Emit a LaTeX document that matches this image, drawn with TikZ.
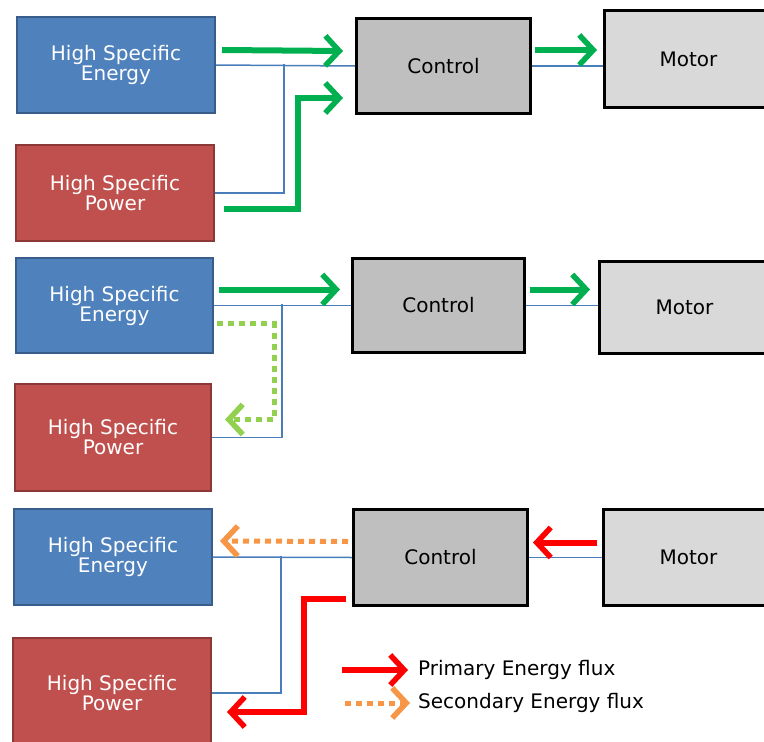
\documentclass[tikz,border=0pt]{standalone}
\usepackage{fontspec}
\setmainfont{DejaVu Sans}
\usetikzlibrary{arrows.meta}

\definecolor{seblue}{HTML}{4F81BD}
\definecolor{seblueline}{HTML}{385D8A}
\definecolor{spred}{HTML}{C0504D}
\definecolor{spredline}{HTML}{8C3836}
\definecolor{ctrlgray}{HTML}{BFBFBF}
\definecolor{motorgray}{HTML}{D9D9D9}
\definecolor{fluxgreen}{HTML}{00B050}
\definecolor{fluxlight}{HTML}{92D050}
\definecolor{fluxorange}{HTML}{F79646}
\definecolor{fluxred}{HTML}{FF0000}
\definecolor{busblue}{HTML}{4A7EBB}

\tikzset{
  box/.style={anchor=north west, align=center, inner sep=0pt,
    font=\fontsize{20}{20}\selectfont},
  energy/.style={box, fill=seblue, draw=seblueline, line width=2pt, text=white},
  power/.style={box, fill=spred, draw=spredline, line width=2pt, text=white},
  ctrl/.style={box, fill=ctrlgray, draw=black, line width=3pt},
  motor/.style={box, fill=motorgray, draw=black, line width=3pt},
  bus/.style={draw=busblue, line width=1.5pt},
  tip/.style={-{Straight Barb[length=14pt,width=30pt,line width=5.5pt]}},
  greenflux/.style={tip, draw=fluxgreen, line width=6pt},
  lightflux/.style={tip, draw=fluxlight, line width=5pt, dash pattern=on 6pt off 5pt},
  redflux/.style={tip, draw=fluxred, line width=6pt},
  orangeflux/.style={tip, draw=fluxorange, line width=5pt, dash pattern=on 6pt off 5pt}
}

\begin{document}
\begin{tikzpicture}[x=1pt, y=-1pt]
    \useasboundingbox (0,0) rectangle (764,742);

    % charge from both sources
    \node[energy, minimum width=198pt, minimum height=96pt] (e1) at (16,16) {High Specific\\Energy};
    \node[power, minimum width=198pt, minimum height=96pt] (p1) at (15,144) {High Specific\\Power};
    \node[ctrl, minimum width=174pt, minimum height=95pt] (c1) at (355,17) {Control};
    \node[motor, minimum width=168pt, minimum height=97pt] (m1) at (603,9) {Motor};
    \coordinate (j1) at (284,64);

    \draw[bus] (e1.east) -- (c1.west);
    \draw[bus] (p1.east) -| (j1);
    \draw[bus] (c1.east) -- (c1.east -| m1.west);
    \draw[greenflux] ([xshift=6pt,yshift=15pt]e1.east) -- ([xshift=-12pt,yshift=15pt]c1.west);
    \draw[greenflux] ([xshift=9pt,yshift=-16pt]p1.east) -| ([xshift=-57pt,yshift=-32pt]c1.west)
        -- ([xshift=-12pt,yshift=-32pt]c1.west);
    \draw[greenflux] ([xshift=3pt,yshift=16pt]c1.east) -- ([xshift=-6pt,yshift=9pt]m1.west);

    % energy source recharges power source
    \node[energy, minimum width=197pt, minimum height=95pt] (e2) at (15,257) {High Specific\\Energy};
    \node[power, minimum width=196pt, minimum height=107pt] (p2) at (14,383) {High Specific\\Power};
    \node[ctrl, minimum width=172pt, minimum height=94pt] (c2) at (351,257) {Control};
    \node[motor, minimum width=170pt, minimum height=92pt] (m2) at (598,260) {Motor};
    \coordinate (j2) at (282,304);

    \draw[bus] (e2.east) -- (c2.west);
    \draw[bus] (p2.east) -| (j2);
    \draw[bus] (c2.east) -- (c2.east -| m2.west);
    \draw[greenflux] ([xshift=5pt,yshift=16pt]e2.east) -- ([xshift=-11pt,yshift=16pt]c2.west);
    \draw[lightflux] ([xshift=3pt,yshift=-18pt]e2.east) -| ([xshift=62pt,yshift=18pt]p2.east)
        -- ([xshift=13pt,yshift=18pt]p2.east);
    \draw[greenflux] ([xshift=4pt,yshift=16pt]c2.east) -- ([xshift=-8pt,yshift=18pt]m2.west);

    % regenerative braking
    \node[energy, minimum width=198pt, minimum height=96pt] (e3) at (13,508) {High Specific\\Energy};
    \node[power, minimum width=198pt, minimum height=110pt] (p3) at (12,637) {High Specific\\Power};
    \node[ctrl, minimum width=174pt, minimum height=96pt] (c3) at (352,508) {Control};
    \node[motor, minimum width=170pt, minimum height=96pt] (m3) at (602,508) {Motor};
    \coordinate (j3) at (281,556);

    \draw[bus] (e3.east) -- (c3.west);
    \draw[bus] (p3.east) -| (j3);
    \draw[bus] (c3.east) -- (m3.west);
    \draw[orangeflux] ([xshift=-4pt,yshift=16pt]c3.west) -- ([xshift=7pt,yshift=16pt]e3.east);
    \draw[redflux] ([xshift=-6pt,yshift=-41pt]c3.west) -| ([xshift=92pt,yshift=-19pt]p3.east)
        -- ([xshift=15pt,yshift=-19pt]p3.east);
    \draw[redflux] ([xshift=-5pt,yshift=15pt]m3.west) -- ([xshift=4pt,yshift=15pt]c3.east);

    % legend
    \node[anchor=west, inner sep=0pt, font=\fontsize{20}{20}\selectfont] (lp) at (418,670) {Primary Energy flux};
    \node[anchor=west, inner sep=0pt, font=\fontsize{20}{20}\selectfont] (ls) at (418,703) {Secondary Energy flux};
    \draw[redflux] ([xshift=-76pt]lp.west) -- ([xshift=-10pt]lp.west);
    \draw[orangeflux] ([xshift=-73pt]ls.west) -- ([xshift=-8pt]ls.west);

\end{tikzpicture}
\end{document}
